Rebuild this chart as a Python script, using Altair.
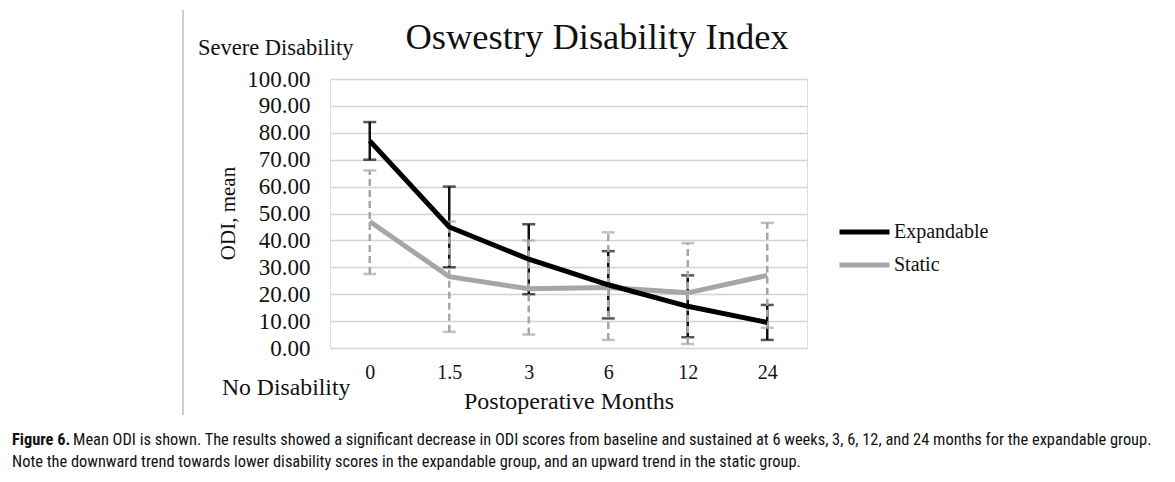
import altair as alt
import pandas as pd

months = ["0", "1.5", "3", "6", "12", "24"]
exp_mean = [77, 45, 33, 23.5, 15.5, 9.5]
exp_lo = [70, 30, 20, 11, 4, 3]
exp_hi = [84, 60, 46, 36, 27, 16]
sta_mean = [47, 26.5, 22, 22.5, 20.5, 27]
sta_lo = [27.5, 6, 5, 3, 1.5, 7.5]
sta_hi = [66, 47, 40, 43, 39, 46.5]
series = ["Expandable", "Static"]
colors = ["#000000", "#a6a6a6"]
y_ticks = [0, 10, 20, 30, 40, 50, 60, 70, 80, 90, 100]

title_text = "Oswestry Disability Index"
x_title = "Postoperative Months"
y_title = "ODI, mean"
top_note = "Severe Disability"
bottom_note = "No Disability"
cap_bold = "Figure 6."
cap_line1 = ("Mean ODI is shown. The results showed a significant decrease in ODI scores from baseline "
             "and sustained at 6 weeks, 3, 6, 12, and 24 months for the expandable group.")
cap_line2 = ("Note the downward trend towards lower disability scores in the expandable group, "
             "and an upward trend in the static group.")

rows = []
for i, m in enumerate(months):
    rows.append({"month": m, "series": series[0], "mean": exp_mean[i], "lo": exp_lo[i], "hi": exp_hi[i]})
    rows.append({"month": m, "series": series[1], "mean": sta_mean[i], "lo": sta_lo[i], "hi": sta_hi[i]})
df = pd.DataFrame(rows)
df_exp = df[df.series == "Expandable"]
df_sta = df[df.series == "Static"]

SERIF = "Liberation Serif"

x_enc = alt.X("month:O", sort=months,
              scale=alt.Scale(type="point", padding=0.5),
              axis=alt.Axis(title=x_title, labelAngle=0, domain=False, ticks=False,
                            labelFont=SERIF, labelFontSize=20, labelColor="#111",
                            labelPadding=14, titleFont=SERIF, titleFontSize=24,
                            titleFontWeight="normal", titleColor="#111",
                            titleY=53, titleBaseline="middle"))
y_scale = alt.Scale(domain=[0, 100], nice=False)
y_axis = alt.Axis(title=y_title, values=y_ticks, format=".2f",
                  labelOverlap=False,
                  domain=False, ticks=False, grid=True, gridColor="#d4d4d4", gridWidth=1.5,
                  labelFont=SERIF, labelFontSize=23, labelColor="#111", labelPadding=20,
                  titleFont=SERIF, titleFontSize=21, titleFontWeight="normal", titleColor="#111",
                  titleAngle=270, titleX=-102, titleY=134, titleAlign="center",
                  titleBaseline="middle")

def yenc(field):
    return alt.Y(f"{field}:Q", scale=y_scale, axis=y_axis)

color = alt.Color("series:N", scale=alt.Scale(domain=series, range=colors),
                  legend=alt.Legend(title=None, orient="none", legendX=507, legendY=143,
                                    symbolType="stroke", symbolStrokeWidth=5, symbolSize=2500,
                                    clipHeight=20, rowPadding=13,
                                    labelFont=SERIF, labelFontSize=20, labelColor="#111",
                                    labelOffset=2))

def caps(d, c, field):
    return alt.Chart(d).mark_tick(color=c, size=13, thickness=2.5, orient="horizontal").encode(
        x=x_enc, y=yenc(field))

exp_err = alt.Chart(df_exp).mark_rule(color="#111", strokeWidth=2.5).encode(
    x=x_enc, y=yenc("lo"), y2="hi:Q")
sta_err = alt.Chart(df_sta).mark_rule(color="#a6a6a6", strokeWidth=2.5, strokeDash=[7, 4]).encode(
    x=x_enc, y=yenc("lo"), y2="hi:Q")

lines_sta = alt.Chart(df_sta).mark_line(strokeWidth=5).encode(
    x=x_enc, y=yenc("mean"), color=color)
lines_exp = alt.Chart(df_exp).mark_line(strokeWidth=5).encode(
    x=x_enc, y=yenc("mean"), color=color)

def label(text, x, y, size, align="left", font=SERIF, weight="normal", color="#111"):
    return alt.Chart(pd.DataFrame({"t": [text]})).mark_text(
        align=align, baseline="middle", font=font, fontSize=size, fontWeight=weight, color=color
    ).encode(x=alt.value(x), y=alt.value(y), text="t:N")

CAP = "Roboto Condensed, Roboto"
texts = [
    label(title_text, 267, -41, 36.5, align="center"),
    label(top_note, -132, -31, 22.5),
    label(bottom_note, -108, 309, 23.7),
    label(cap_bold, -318, 361, 16.4, font=CAP, weight="bold"),
    label(cap_line1, -257, 361, 16.4, font=CAP),
    label(cap_line2, -318, 383, 16.4, font=CAP),
]

border = alt.Chart(pd.DataFrame({"a": [0]})).mark_rule(color="#cfcfcf", strokeWidth=2).encode(
    x=alt.value(-147), y=alt.value(-69), y2=alt.value(336))

chart = alt.layer(border, exp_err, caps(df_exp, "#111", "lo"), caps(df_exp, "#111", "hi"),
                  sta_err, caps(df_sta, "#a6a6a6", "lo"), caps(df_sta, "#a6a6a6", "hi"),
                  lines_sta, lines_exp, *texts).properties(
    width=477, height=269,
    padding={"left": 322, "top": 71, "right": 360, "bottom": 126},
    autosize=alt.AutoSizeParams(type="none"),
).configure_view(strokeWidth=0, stroke="transparent").configure(background="white")

chart.save("out.html", embed_options={"renderer": "svg", "actions": False})
